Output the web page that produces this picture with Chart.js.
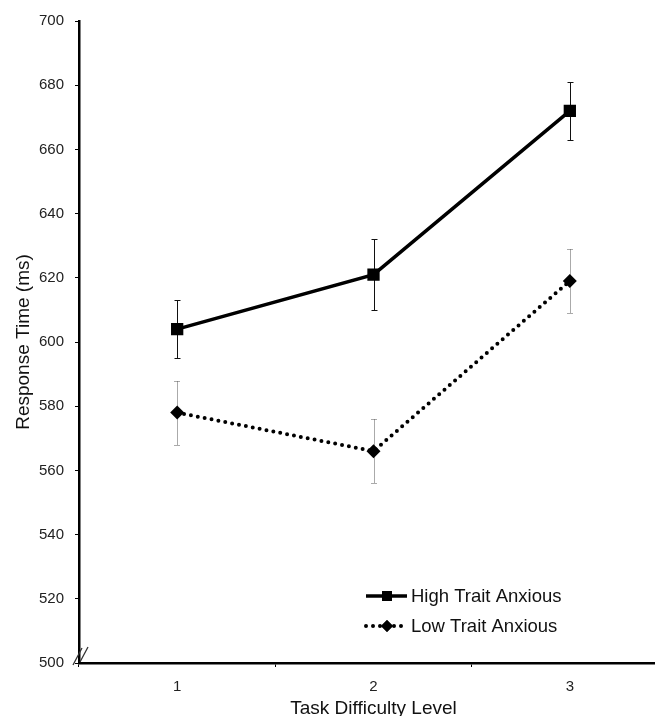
<!DOCTYPE html>
<html>
<head>
<meta charset="utf-8">
<script src="https://cdn.jsdelivr.net/npm/chart.js@4"></script>
<style>
  html, body { margin: 0; padding: 0; background: #fff; overflow: hidden; }
  #wrap { width: 655px; height: 716px; overflow: hidden; }
</style>
</head>
<body>
<div id="wrap"><canvas id="myChart" width="680" height="716"></canvas></div>
<script>
const levels = ["1", "2", "3"];
const highAnxious = [604, 621, 672];
const highErr = [9, 11, 9];
const lowAnxious = [578, 566, 619];
const lowErr = [10, 10, 10];
const yTicks = [500, 520, 540, 560, 580, 600, 620, 640, 660, 680, 700];

const fontName = "'Liberation Sans', Arial, sans-serif";

// error bars, axis break and legend
const extras = {
  id: "extras",
  beforeDatasetsDraw(chart) {
    const ctx = chart.ctx;
    const x = chart.scales.x;
    const y = chart.scales.y;
    const sets = [
      { vals: highAnxious, err: highErr, dash: [], color: "#111" },
      { vals: lowAnxious, err: lowErr, dash: [1, 1], color: "#555" },
    ];
    ctx.save();
    ctx.lineWidth = 1;
    sets.forEach((s) => {
      ctx.strokeStyle = s.color;
      ctx.setLineDash(s.dash);
      s.vals.forEach((v, i) => {
        const px = Math.round(x.getPixelForValue(i)) + 0.5;
        const top = Math.round(y.getPixelForValue(v + s.err[i])) + 0.5;
        const bot = Math.round(y.getPixelForValue(v - s.err[i])) + 0.5;
        ctx.beginPath();
        ctx.moveTo(px, top);
        ctx.lineTo(px, bot);
        ctx.moveTo(px - 3, top);
        ctx.lineTo(px + 3, top);
        ctx.moveTo(px - 3, bot);
        ctx.lineTo(px + 3, bot);
        ctx.stroke();
      });
    });
    ctx.restore();
  },
  afterDraw(chart) {
    const ctx = chart.ctx;
    const a = chart.chartArea;
    ctx.save();
    // axis break
    ctx.strokeStyle = "#333";
    ctx.lineWidth = 1.3;
    ctx.beginPath();
    ctx.moveTo(a.left - 6, a.bottom + 2);
    ctx.lineTo(a.left + 3, a.bottom - 15);
    ctx.moveTo(a.left + 1, a.bottom - 1);
    ctx.lineTo(a.left + 9, a.bottom - 16);
    ctx.stroke();

    // legend
    const ds = chart.data.datasets;
    const rows = [
      { d: ds[0], y: 596 },
      { d: ds[1], y: 626 },
    ];
    rows.forEach((r) => {
      ctx.strokeStyle = "#000";
      ctx.lineWidth = r.d.borderWidth;
      ctx.lineCap = r.d.borderCapStyle || "butt";
      ctx.setLineDash(r.d.borderDash || []);
      ctx.beginPath();
      ctx.moveTo(366, r.y);
      ctx.lineTo(407, r.y);
      ctx.stroke();
      ctx.setLineDash([]);
      Chart.helpers.drawPoint(ctx, {
        pointStyle: r.d.pointStyle,
        radius: r.d.pointStyle === "rect" ? 7 : 6,
        borderWidth: 0,
      }, 387, r.y);
      ctx.fillStyle = "#000";
      ctx.fill();
      ctx.font = "18.5px " + fontName;
      ctx.fillStyle = "#111";
      ctx.textBaseline = "middle";
      ctx.fillText(r.d.label, 411, r.y + 1);
    });
    ctx.restore();
  },
};

new Chart("myChart", {
  type: "line",
  data: {
    labels: levels,
    datasets: [
      {
        label: "High Trait Anxious",
        data: highAnxious,
        borderColor: "#000",
        backgroundColor: "#000",
        borderWidth: 3.5,
        pointStyle: "rect",
        pointRadius: 8.7,
        pointBorderWidth: 0,
      },
      {
        label: "Low Trait Anxious",
        data: lowAnxious,
        borderColor: "#000",
        backgroundColor: "#000",
        borderWidth: 4,
        borderDash: [0, 7],
        borderCapStyle: "round",
        pointStyle: "rectRot",
        pointRadius: 7,
        pointBorderWidth: 0,
      },
    ],
  },
  options: {
    responsive: false,
    animation: false,
    layout: { padding: { top: 21, right: 12, left: 0, bottom: 0 } },
    plugins: {
      legend: { display: false },
      tooltip: { enabled: false },
    },
    scales: {
      x: {
        type: "category",
        offset: true,
        afterFit: (s) => { s.height = 53; },
        grid: {
          offset: true,
          drawOnChartArea: false,
          drawTicks: true,
          tickLength: 4,
          color: "#000",
        },
        border: { color: "#000", width: 2.5 },
        ticks: {
          color: "#222",
          padding: 11,
          font: { family: fontName, size: 15 },
        },
        title: {
          display: true,
          text: "Task Difficulty Level",
          color: "#111",
          padding: { top: 0, bottom: -4 },
          font: { family: fontName, size: 19 },
        },
      },
      y: {
        min: 500,
        max: 700,
        afterFit: (s) => { s.width = 79; },
        afterBuildTicks: (s) => { s.ticks = yTicks.map((v) => ({ value: v })); },
        grid: {
          drawOnChartArea: false,
          drawTicks: true,
          tickLength: 4,
          color: "#000",
        },
        border: { color: "#000", width: 2.5 },
        ticks: {
          color: "#222",
          padding: 11,
          font: { family: fontName, size: 15 },
        },
        title: {
          display: true,
          text: "Response Time (ms)",
          color: "#111",
          padding: { top: 12, bottom: 0 },
          font: { family: fontName, size: 19 },
        },
      },
    },
  },
  plugins: [extras],
});
</script>
</body>
</html>
